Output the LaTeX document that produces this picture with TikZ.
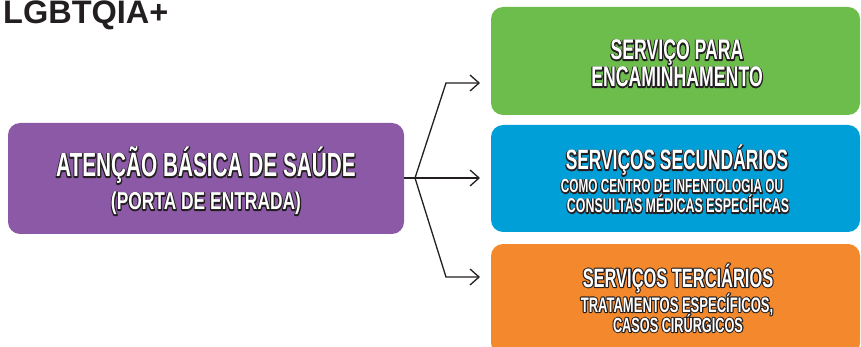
\documentclass[tikz,border=0pt]{standalone}
\usepackage{fontspec}
\usetikzlibrary{arrows.meta}

\newfontfamily\titlefont{Liberation Sans}
\newfontfamily\condfont[FakeStretch=0.62]{Liberation Sans}
\newfontfamily\semicondfont[FakeStretch=0.71]{Liberation Sans}

\definecolor{boxpurple}{HTML}{8B59A5}
\definecolor{boxgreen}{HTML}{6CBD4B}
\definecolor{boxblue}{HTML}{019FD7}
\definecolor{boxorange}{HTML}{F3892C}
\definecolor{inkdark}{HTML}{231F20}

% white lettering with a dark rim: a stroked copy below, the filled text on top
\newcommand\outl[1]{%
  \makebox[0pt][l]{%
    \special{pdf:literal direct 0.137 0.122 0.125 RG 2.2 w 1 j 1 Tr}%
    #1%
    \special{pdf:literal direct 0 Tr}}%
  #1}
\newcommand\fsz[1]{\fontsize{#1}{#1}\selectfont}

\tikzset{
  box/.style={rectangle, rounded corners=12pt, inner sep=0pt, draw=none},
  lbl/.style={anchor=base, text=white, inner sep=0pt},
  link/.style={draw=inkdark, line width=1.3pt},
  arr/.style={link, -{Straight Barb[length=9pt,width=16pt]}},
}

\begin{document}
\begin{tikzpicture}[x=1pt,y=-1pt]
  \useasboundingbox (0,0) rectangle (861,347);

  % heading
  \node[anchor=base west, inner sep=0pt, text=inkdark,
        font=\titlefont\bfseries\fsz{32.5}] (title) at (3,24) {LGBTQIA+};

  % boxes
  \node[box, fill=boxpurple, minimum width=396pt, minimum height=111pt] (abs) at (206,178.5) {};
  \node[box, fill=boxgreen,  minimum width=369pt, minimum height=108pt] (enc) at (675.5,61) {};
  \node[box, fill=boxblue,   minimum width=369pt, minimum height=107pt] (sec) at (675.5,178.5) {};
  \node[box, fill=boxorange, minimum width=369pt, minimum height=111pt] (ter) at (675.5,299.5) {};

  % labels
  \node[lbl, font=\condfont\bfseries\fsz{33.5}]   (abs1) at (206,177) {\outl{ATENÇÃO BÁSICA DE SAÚDE}};
  \node[lbl, font=\semicondfont\bfseries\fsz{24.5}] (abs2) at (206,210) {\outl{(PORTA DE ENTRADA)}};

  \node[lbl, font=\condfont\bfseries\fsz{28.5}] (enc1) at (677,60) {\outl{SERVIÇO PARA}};
  \node[lbl, font=\condfont\bfseries\fsz{28.5}] (enc2) at (677,87) {\outl{ENCAMINHAMENTO}};

  \node[lbl, font=\condfont\bfseries\fsz{28}]   (sec1) at (677,170) {\outl{SERVIÇOS SECUNDÁRIOS}};
  \node[lbl, font=\condfont\bfseries\fsz{19}]   (sec2) at (672,193) {\outl{COMO CENTRO DE INFENTOLOGIA OU}};
  \node[lbl, font=\condfont\bfseries\fsz{20}]   (sec3) at (678,213) {\outl{CONSULTAS MÉDICAS ESPECÍFICAS}};

  \node[lbl, font=\condfont\bfseries\fsz{26.5}] (ter1) at (678,287) {\outl{SERVIÇOS TERCIÁRIOS}};
  \node[lbl, font=\condfont\bfseries\fsz{21}]   (ter2) at (677,312) {\outl{TRATAMENTOS ESPECÍFICOS,}};
  \node[lbl, font=\condfont\bfseries\fsz{20.5}] (ter3) at (678,332) {\outl{CASOS CIRÚRGICOS}};

  % branching connector
  \coordinate (fork) at (415,178);
  \coordinate (upbend) at (446,83);
  \coordinate (lobend) at (446,277);
  \coordinate (uptip) at (480,83);
  \coordinate (midtip) at (480,178);
  \coordinate (lotip) at (480,277);

  \draw[link] (abs.east |- fork) -- (fork);
  \draw[arr] (fork) -- (upbend) -- (uptip);
  \draw[arr] (fork) -- (midtip);
  \draw[arr] (fork) -- (lobend) -- (lotip);
\end{tikzpicture}
\end{document}
